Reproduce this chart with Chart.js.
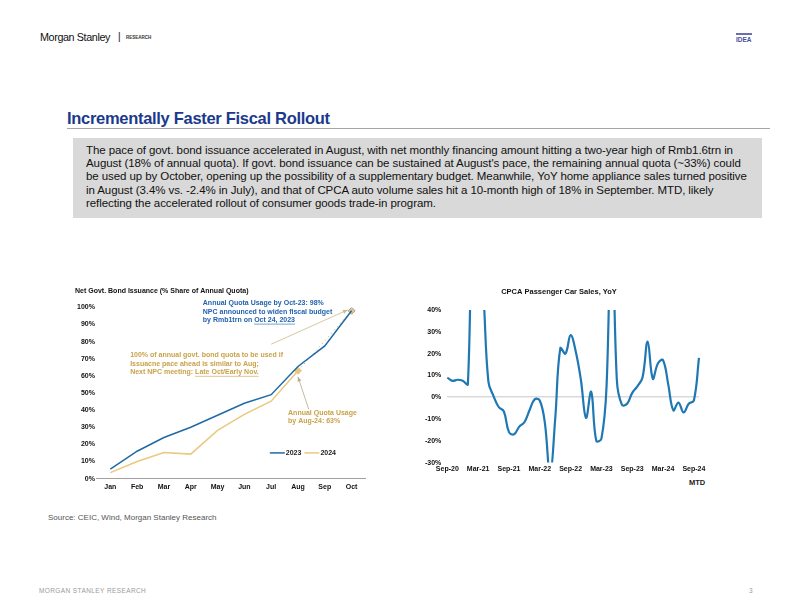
<!DOCTYPE html>
<html>
<head>
<meta charset="utf-8">
<script src="https://cdn.jsdelivr.net/npm/chart.js@4"></script>
<style>
  body { margin: 0; width: 792px; height: 612px; position: relative; background: #fff; font-family: "Liberation Sans", Arial, sans-serif; overflow: hidden; }
  .abs { position: absolute; white-space: nowrap; }
  #brand { left: 40px; top: 31px; font-size: 10.8px; color: #111; letter-spacing: -0.4px; }
  #bar { left: 118px; top: 31px; font-size: 10px; color: #111; }
  #research { left: 126px; top: 35px; font-size: 4.5px; font-weight: bold; color: #333; }
  #idea { left: 736px; top: 33px; font-size: 6.5px; font-weight: bold; color: #4a4f9a; border-top: 2px solid #6b6fb0; padding-top: 1px; }
  #title { left: 67px; top: 109px; font-size: 16.5px; font-weight: bold; color: #1b3a8c; letter-spacing: -0.3px; }
  #rule { left: 67px; top: 128px; width: 703px; height: 1px; background: #a6a6a6; }
  #box { left: 73px; top: 138px; width: 689px; height: 80px; background: #d9d9d9; }
  #boxtext { left: 86px; top: 144px; font-size: 11.5px; line-height: 13.2px; color: #111; letter-spacing: -0.08px; }
  #source { left: 48px; top: 513px; font-size: 8px; color: #555; }
  #footer { left: 39px; top: 587px; font-size: 6.5px; color: #9a9a9a; letter-spacing: 0.4px; }
  #page { left: 749px; top: 587px; font-size: 6.5px; color: #9a9a9a; }
  #mtd { left: 689px; top: 478px; font-size: 7.5px; font-weight: bold; color: #222; }
  #c1 { position: absolute; left: 66px; top: 287px; }
  #c2 { position: absolute; left: 419px; top: 283px; }
</style>
</head>
<body>
<div class="abs" id="brand">Morgan Stanley</div>
<div class="abs" id="bar">|</div>
<div class="abs" id="research">RESEARCH</div>
<div class="abs" id="idea">IDEA</div>
<div class="abs" id="title">Incrementally Faster Fiscal Rollout</div>
<div class="abs" id="rule"></div>
<div class="abs" id="box"></div>
<div class="abs" id="boxtext">The pace of govt. bond issuance accelerated in August, with net monthly financing amount hitting a two-year high of Rmb1.6trn in<br>August (18% of annual quota). If govt. bond issuance can be sustained at August's pace, the remaining annual quota (~33%) could<br>be used up by October, opening up the possibility of a supplementary budget. Meanwhile, YoY home appliance sales turned positive<br>in August (3.4% vs. -2.4% in July), and that of CPCA auto volume sales hit a 10-month high of 18% in September. MTD, likely<br>reflecting the accelerated rollout of consumer goods trade-in program.</div>
<canvas id="c1" width="304" height="208"></canvas>
<canvas id="c2" width="300" height="192"></canvas>
<div class="abs" id="mtd">MTD</div>
<div class="abs" id="source">Source: CEIC, Wind, Morgan Stanley Research</div>
<div class="abs" id="footer">MORGAN STANLEY RESEARCH</div>
<div class="abs" id="page">3</div>
<script>
// ---- left chart data: cumulative net govt bond issuance, % of annual quota
const months = ['Jan', 'Feb', 'Mar', 'Apr', 'May', 'Jun', 'Jul', 'Aug', 'Sep', 'Oct'];
const issuance2023 = [5.6, 16, 24, 30, 37, 44, 49, 65.5, 77.5, 98];
const issuance2024 = [3.5, 10, 15.2, 14.3, 28.2, 37.5, 45.2, 63, null, null];
const projection2024 = [null, null, null, null, null, null, null, 63, null, 98];

// ---- right chart data: CPCA passenger car sales YoY (%)
const carMonths = [
  'Sep-20', 'Oct-20', 'Nov-20', 'Dec-20', 'Jan-21', 'Feb-21', 'Mar-21', 'Apr-21', 'May-21', 'Jun-21',
  'Jul-21', 'Aug-21', 'Sep-21', 'Oct-21', 'Nov-21', 'Dec-21', 'Jan-22', 'Feb-22', 'Mar-22', 'Apr-22',
  'May-22', 'Jun-22', 'Jul-22', 'Aug-22', 'Sep-22', 'Oct-22', 'Nov-22', 'Dec-22', 'Jan-23', 'Feb-23',
  'Mar-23', 'Apr-23', 'May-23', 'Jun-23', 'Jul-23', 'Aug-23', 'Sep-23', 'Oct-23', 'Nov-23', 'Dec-23',
  'Jan-24', 'Feb-24', 'Mar-24', 'Apr-24', 'May-24', 'Jun-24', 'Jul-24', 'Aug-24', 'Sep-24', 'Oct-24'
];
const carYoY = [
  9, 7.5, 8, 7.5, 6, 110, 75, 48, 7, 0.5,
  -4.5, -6.5, -16, -17, -13.5, -11.5, -6, -1, -1.5, -12,
  -36, -10, 22.5, 20, 28.5, 21, 8, -9.5, 2.5, -20,
  -19, 5, 90, 8, -3.5, -3, 2, 5, 9, 25.5,
  8.5, 15.5, 17, 6, -6, -2.5, -7, -3, -1.5, 18
];
const carTickLabels = ['Sep-20', 'Mar-21', 'Sep-21', 'Mar-22', 'Sep-22', 'Mar-23', 'Sep-23', 'Mar-24', 'Sep-24'];

const BLUE = '#1f6aa5';
const GOLD = '#e9c97f';
const GOLD_TXT = '#c9a24a';
const tickFont = { family: 'Liberation Sans', size: 7, weight: 'bold' };

function arrow(ctx, x1, y1, x2, y2, color) {
  ctx.save();
  ctx.strokeStyle = color; ctx.fillStyle = color; ctx.lineWidth = 0.8;
  ctx.beginPath(); ctx.moveTo(x1, y1); ctx.lineTo(x2, y2); ctx.stroke();
  const a = Math.atan2(y2 - y1, x2 - x1);
  ctx.beginPath();
  ctx.moveTo(x2, y2);
  ctx.lineTo(x2 - 5 * Math.cos(a - 0.4), y2 - 5 * Math.sin(a - 0.4));
  ctx.lineTo(x2 - 5 * Math.cos(a + 0.4), y2 - 5 * Math.sin(a + 0.4));
  ctx.closePath(); ctx.fill();
  ctx.restore();
}

function textLines(ctx, x, y, lines, color, step) {
  ctx.save();
  ctx.font = 'bold 7px "Liberation Sans"';
  ctx.fillStyle = color; ctx.strokeStyle = color; ctx.lineWidth = 0.6;
  ctx.textBaseline = 'middle';
  lines.forEach((ln, i) => {
    const yy = y + i * step;
    ctx.fillText(ln[0], x, yy);
    if (ln[1]) {
      const w0 = ctx.measureText(ln[0]).width;
      const w1 = ctx.measureText(ln[1]).width;
      ctx.fillText(ln[1], x + w0, yy);
      ctx.beginPath(); ctx.moveTo(x + w0, yy + 4); ctx.lineTo(x + w0 + w1, yy + 4); ctx.stroke();
    }
  });
  ctx.restore();
}

const notes = {
  id: 'notes',
  afterDatasetsDraw(chart) {
    const ctx = chart.ctx, x = chart.scales.x, y = chart.scales.y;
    textLines(ctx, x.getPixelForValue(3.45), y.getPixelForValue(102.5), [
      ['Annual Quota Usage by Oct-23: 98%'],
      ['NPC announced to widen fiscal budget'],
      ['by Rmb1trn on ', 'Oct 24, 2023']
    ], '#2263ae', 8.5);
    textLines(ctx, x.getPixelForValue(0.74), y.getPixelForValue(72), [
      ['100% of annual govt. bond quota to be used if'],
      ['Issuacne pace ahead is similar to Aug;'],
      ['Next NPC meeting: ', 'Late Oct/Early Nov.']
    ], GOLD_TXT, 8.5);
    textLines(ctx, x.getPixelForValue(6.63), y.getPixelForValue(38.5), [
      ['Annual Quota Usage'],
      ['by Aug-24: 63%']
    ], GOLD_TXT, 8.5);
    arrow(ctx, x.getPixelForValue(6.0), y.getPixelForValue(78.5), x.getPixelForValue(8.85), y.getPixelForValue(98.5), '#cdb98a');
    arrow(ctx, x.getPixelForValue(7.4), y.getPixelForValue(40.5), x.getPixelForValue(7.0), y.getPixelForValue(59.5), '#b8a88a');

    // legend for the two year series, inside the plot
    const ly = y.getPixelForValue(15);
    let lx = x.getPixelForValue(5.95);
    ctx.save();
    ctx.font = 'bold 7px "Liberation Sans"';
    ctx.textBaseline = 'middle';
    chart.data.datasets.slice(0, 2).forEach(ds => {
      ctx.strokeStyle = ds.borderColor; ctx.lineWidth = 1.5;
      ctx.beginPath(); ctx.moveTo(lx, ly); ctx.lineTo(lx + 15, ly); ctx.stroke();
      ctx.fillStyle = '#222';
      ctx.fillText(ds.label, lx + 16, ly);
      lx += 16 + ctx.measureText(ds.label).width + 3;
    });
    ctx.restore();
  }
};

new Chart(document.getElementById('c1'), {
  type: 'line',
  data: {
    labels: months,
    datasets: [
      { label: '2023', data: issuance2023, borderColor: BLUE, borderWidth: 1.5, pointRadius: 0, tension: 0 },
      { label: '2024', data: issuance2024, borderColor: GOLD, borderWidth: 1.5, pointRadius: 0, tension: 0 },
      { label: 'proj', data: projection2024, borderColor: '#d9b970', borderWidth: 1, borderDash: [1.5, 3],
        spanGaps: true, pointStyle: 'rectRot', pointRadius: 3.5, pointBackgroundColor: '#e6c77c',
        pointBorderColor: ['#e6c77c', '#e6c77c', '#e6c77c', '#e6c77c', '#e6c77c', '#e6c77c', '#e6c77c', '#e6c77c', '#e6c77c', '#a99bb0'],
        pointBorderWidth: 1 }
    ]
  },
  options: {
    responsive: false, animation: false,
    layout: { padding: { left: 9, right: 5, top: 0, bottom: 0 } },
    plugins: {
      title: { display: true, text: 'Net Govt. Bond Issuance (% Share of Annual Quota)', align: 'start',
        color: '#111', font: { family: 'Liberation Sans', size: 7, weight: 'bold' }, padding: { top: 0, bottom: 12 } },
      legend: { display: false },
      tooltip: { enabled: false }
    },
    scales: {
      x: { offset: true, grid: { display: false, drawTicks: false }, border: { color: '#a0a0a0', width: 1 },
        ticks: { color: '#111', font: tickFont, padding: 4, maxRotation: 0 } },
      y: { min: 0, max: 100, grid: { display: false, drawTicks: false }, border: { display: false },
        ticks: { stepSize: 10, color: '#111', font: tickFont, padding: 2, callback: v => v + '%' } }
    }
  },
  plugins: [notes]
});

new Chart(document.getElementById('c2'), {
  type: 'line',
  data: {
    labels: carMonths,
    datasets: [{ label: 'YoY', data: carYoY, borderColor: '#1f78b4', borderWidth: 2.2, pointRadius: 0, tension: 0.4 }]
  },
  options: {
    responsive: false, animation: false,
    layout: { padding: { left: 0, right: 20, top: 0, bottom: 0 } },
    plugins: {
      title: { display: true, text: 'CPCA Passenger Car Sales, YoY', color: '#111',
        font: { family: 'Liberation Sans', size: 7.5, weight: 'bold' }, padding: { top: 4, bottom: 14 } },
      legend: { display: false }, tooltip: { enabled: false }
    },
    scales: {
      x: { grid: { display: false, drawTicks: false }, border: { display: false },
        ticks: { autoSkip: false, maxRotation: 0, color: '#111', font: tickFont, padding: 2,
          callback: (v, i) => carTickLabels.includes(carMonths[i]) ? carMonths[i] : '' } },
      y: { min: -30, max: 40, border: { display: false },
        grid: { drawTicks: false, color: c => c.tick.value === 0 ? '#d9d9d9' : 'rgba(0,0,0,0)', lineWidth: 1.5 },
        ticks: { stepSize: 10, color: '#111', font: tickFont, padding: 6, callback: v => v + '%' } }
    }
  }
});
</script>
</body>
</html>
